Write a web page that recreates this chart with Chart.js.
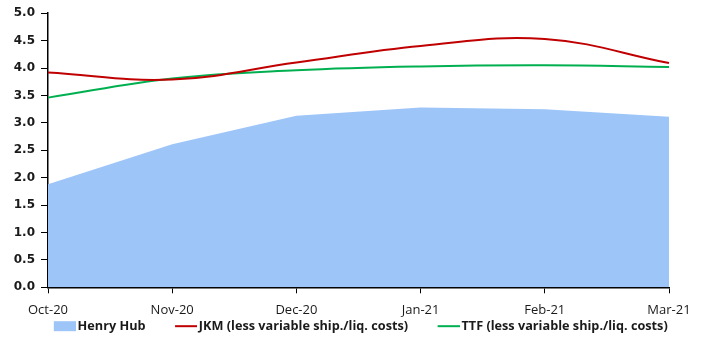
<!DOCTYPE html>
<html lang="en">
<head>
    <meta charset="UTF-8">
    <title>Henry Hub vs JKM vs TTF</title>
    <script src="https://cdn.jsdelivr.net/npm/chart.js@4.4.1/dist/chart.umd.min.js"></script>
    <style>
        html, body { margin: 0; padding: 0; background: #fff; }
        #wrap { width: 711px; height: 339px; }
    </style>
</head>
<body>
    <div id="wrap"><canvas id="chart"></canvas></div>

    <script>
        const months = ['Oct-20', 'Nov-20', 'Dec-20', 'Jan-21', 'Feb-21', 'Mar-21']
        const henryHub = [1.88, 2.61, 3.13, 3.28, 3.25, 3.11]
        const jkm = [3.92, 3.79, 4.10, 4.40, 4.53, 4.09]
        const ttf = [3.46, 3.81, 3.96, 4.03, 4.05, 4.02]
        const yTicks = [0, 0.5, 1, 1.5, 2, 2.5, 3, 3.5, 4, 4.5, 5]

        // legend markers: the empty left part of the canvas gives the gap between items
        function legendMarker(color, kind) {
            let c = document.createElement('canvas')
            c.width = 53
            c.height = 12
            let g = c.getContext('2d')
            g.fillStyle = color
            if (kind === 'rect') g.fillRect(31, 1, 22, 10)
            else g.fillRect(31, 5, 22, 2)
            return c
        }
        const markers = [
            legendMarker('#9DC5F8', 'rect'),
            legendMarker('#C00000', 'line'),
            legendMarker('#00B050', 'line')
        ]

        let ctx = document.getElementById('chart').getContext('2d')
        let chart = new Chart(ctx, {
            type: 'line',
            data: {
                labels: months,
                datasets: [
                    {
                        label: 'Henry Hub',
                        data: henryHub,
                        backgroundColor: '#9DC5F8',
                        borderWidth: 0,
                        borderColor: '#9DC5F8',
                        fill: 'origin',
                        tension: 0,
                        pointRadius: 0,
                        order: 3
                    },
                    {
                        label: 'JKM (less variable ship./liq. costs)',
                        data: jkm,
                        borderColor: '#C00000',
                        backgroundColor: '#C00000',
                        borderWidth: 2,
                        fill: false,
                        tension: 0.4,
                        pointRadius: 0,
                        order: 1
                    },
                    {
                        label: 'TTF (less variable ship./liq. costs)',
                        data: ttf,
                        borderColor: '#00B050',
                        backgroundColor: '#00B050',
                        borderWidth: 2,
                        fill: false,
                        tension: 0.4,
                        pointRadius: 0,
                        order: 2
                    }
                ]
            },
            options: {
                responsive: true,
                maintainAspectRatio: false,
                animation: false,
                layout: { padding: { top: 5, right: 16, left: 0, bottom: -3.5 } },
                plugins: {
                    tooltip: { enabled: false },
                    legend: {
                        position: 'bottom',
                        labels: {
                            usePointStyle: true,
                            pointStyleWidth: 44,
                            boxHeight: 10,
                            padding: 3,
                            color: '#1a1a1a',
                            sort: (a, b) => a.datasetIndex - b.datasetIndex,
                            generateLabels: c => Chart.defaults.plugins.legend.labels.generateLabels(c)
                                .map(item => ({ ...item, pointStyle: markers[item.datasetIndex] })),
                            font: { family: 'Open Sans', size: 12.7, weight: 'bold' }
                        }
                    }
                },
                scales: {
                    x: {
                        offset: false,
                        afterFit: s => { s.height = 29.5 },
                        border: { display: true, color: '#000', width: 1.5 },
                        grid: { display: true, drawOnChartArea: false, drawTicks: true, tickLength: 6, color: '#000' },
                        ticks: {
                            color: '#1a1a1a',
                            padding: 9,
                            maxRotation: 0,
                            font: { family: 'Open Sans', size: 13 }
                        }
                    },
                    y: {
                        min: 0,
                        max: 5,
                        afterFit: s => { s.width = 48 },
                        afterBuildTicks: axis => { axis.ticks = yTicks.map(v => ({ value: v })) },
                        border: { display: true, color: '#000', width: 1.5 },
                        grid: { display: true, drawOnChartArea: false, drawTicks: true, tickLength: 7, color: '#000' },
                        ticks: {
                            color: '#1a1a1a',
                            padding: 6,
                            callback: v => Number(v).toFixed(1),
                            font: { family: 'DejaVu Sans', size: 12, weight: 'bold' }
                        }
                    },
                    // empty right axis, only keeps the right margin
                    yRight: {
                        position: 'right',
                        afterFit: s => { s.width = 26 },
                        border: { display: false },
                        grid: { display: false },
                        ticks: { display: false }
                    }
                }
            }
        })
    </script>
</body>
</html>
